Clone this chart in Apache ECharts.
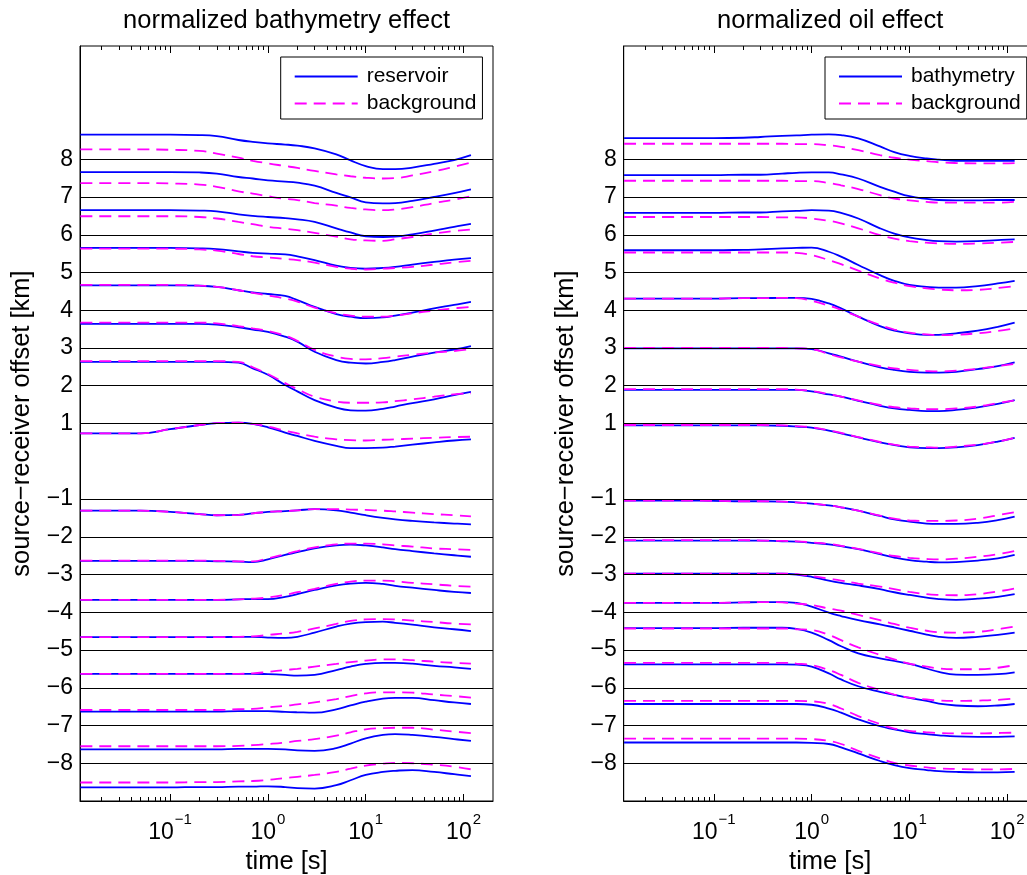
<!DOCTYPE html>
<html><head><meta charset="utf-8">
<script src="https://cdn.jsdelivr.net/npm/echarts@6/dist/echarts.min.js"></script>
<style>html,body{margin:0;padding:0;background:#fff}#c{width:1027px;height:875px}</style>
</head><body><div id="c"></div>
<script>
// ---------- data ----------
const TIME = [0.0121, 0.05, 0.1, 0.2, 0.3, 0.5, 0.7, 1, 1.5, 2, 3, 5, 7, 10, 15, 20, 30, 50, 80, 119];
const OFFSETS = [8, 7, 6, 5, 4, 3, 2, 1, -1, -2, -3, -4, -5, -6, -7, -8];
const Y_TICKS = [-8, -7, -6, -5, -4, -3, -2, -1, 1, 2, 3, 4, 5, 6, 7, 8];
const X_MAJOR = [0.1, 1, 10, 100];
const X_EXP = ['\u22121', '0', '1', '2'];
const X_MINOR = [0.02,0.03,0.04,0.05,0.06,0.07,0.08,0.09,0.2,0.3,0.4,0.5,0.6,0.7,0.8,0.9,2,3,4,5,6,7,8,9,20,30,40,50,60,70,80,90];
const TITLES = ['normalized bathymetry effect', 'normalized oil effect'];
const LEGENDS = [['reservoir', 'background'], ['bathymetry', 'background']];

const bathyReservoir = [
 [8.65,8.65,8.65,8.64,8.61,8.51,8.46,8.42,8.39,8.36,8.29,8.13,7.97,7.82,7.74,7.74,7.78,7.88,7.98,8.11],
 [7.66,7.66,7.66,7.65,7.62,7.53,7.49,7.44,7.41,7.38,7.30,7.11,6.99,6.86,6.83,6.84,6.90,7.00,7.10,7.20],
 [6.65,6.65,6.65,6.64,6.62,6.54,6.50,6.47,6.44,6.41,6.34,6.17,6.06,5.96,5.94,5.95,6.01,6.11,6.21,6.29],
 [5.65,5.65,5.65,5.64,5.62,5.56,5.52,5.50,5.48,5.43,5.33,5.18,5.12,5.10,5.12,5.15,5.21,5.28,5.34,5.38],
 [4.66,4.66,4.66,4.65,4.62,4.53,4.47,4.43,4.38,4.27,4.09,3.90,3.83,3.79,3.81,3.86,3.94,4.05,4.14,4.22],
 [3.64,3.64,3.64,3.64,3.62,3.55,3.49,3.43,3.30,3.17,2.90,2.68,2.61,2.59,2.63,2.68,2.77,2.88,2.96,3.05],
 [2.63,2.63,2.63,2.63,2.63,2.61,2.46,2.29,2.02,1.85,1.62,1.42,1.35,1.34,1.39,1.45,1.54,1.64,1.75,1.84],
 [0.74,0.74,0.85,0.96,1.01,1.02,0.99,0.90,0.76,0.67,0.54,0.41,0.35,0.35,0.36,0.39,0.44,0.50,0.55,0.58],
 [-1.31,-1.31,-1.34,-1.40,-1.43,-1.42,-1.38,-1.34,-1.32,-1.30,-1.27,-1.30,-1.36,-1.43,-1.50,-1.54,-1.58,-1.62,-1.65,-1.67],
 [-2.64,-2.64,-2.64,-2.64,-2.65,-2.66,-2.67,-2.60,-2.48,-2.41,-2.31,-2.23,-2.21,-2.23,-2.28,-2.33,-2.38,-2.44,-2.49,-2.53],
 [-3.67,-3.67,-3.67,-3.67,-3.67,-3.66,-3.65,-3.65,-3.59,-3.52,-3.41,-3.29,-3.24,-3.22,-3.25,-3.30,-3.35,-3.41,-3.46,-3.49],
 [-4.66,-4.66,-4.66,-4.66,-4.66,-4.65,-4.65,-4.67,-4.68,-4.65,-4.54,-4.38,-4.30,-4.26,-4.25,-4.28,-4.33,-4.40,-4.45,-4.50],
 [-5.63,-5.63,-5.63,-5.63,-5.63,-5.63,-5.63,-5.64,-5.66,-5.68,-5.66,-5.53,-5.44,-5.37,-5.34,-5.34,-5.36,-5.42,-5.46,-5.50],
 [-6.63,-6.63,-6.63,-6.63,-6.63,-6.62,-6.62,-6.62,-6.64,-6.65,-6.66,-6.57,-6.47,-6.37,-6.29,-6.27,-6.27,-6.33,-6.39,-6.43],
 [-7.63,-7.63,-7.63,-7.63,-7.63,-7.62,-7.62,-7.62,-7.63,-7.66,-7.67,-7.60,-7.48,-7.34,-7.25,-7.23,-7.25,-7.30,-7.36,-7.41],
 [-8.64,-8.64,-8.64,-8.63,-8.63,-8.62,-8.62,-8.61,-8.63,-8.66,-8.67,-8.58,-8.45,-8.31,-8.23,-8.20,-8.18,-8.23,-8.29,-8.34]
];
const bathyBackground = [
 [8.26,8.26,8.25,8.22,8.15,8.04,7.96,7.89,7.82,7.77,7.69,7.60,7.55,7.51,7.49,7.50,7.57,7.68,7.80,7.91],
 [7.37,7.37,7.36,7.33,7.27,7.15,7.09,7.02,6.95,6.92,6.84,6.77,6.71,6.67,6.65,6.67,6.73,6.84,6.93,7.02],
 [6.49,6.49,6.49,6.47,6.43,6.34,6.28,6.21,6.16,6.12,6.05,5.95,5.88,5.85,5.84,5.88,5.94,6.03,6.10,6.14],
 [5.63,5.63,5.63,5.61,5.58,5.49,5.43,5.40,5.36,5.33,5.26,5.15,5.10,5.08,5.10,5.12,5.15,5.21,5.27,5.31],
 [4.67,4.67,4.67,4.65,4.62,4.53,4.46,4.39,4.31,4.23,4.07,3.92,3.86,3.83,3.83,3.86,3.92,3.99,4.05,4.09],
 [3.67,3.67,3.67,3.67,3.65,3.58,3.52,3.45,3.33,3.19,2.95,2.77,2.71,2.70,2.73,2.77,2.82,2.88,2.92,2.97],
 [2.65,2.65,2.65,2.65,2.65,2.63,2.49,2.31,2.07,1.91,1.71,1.58,1.55,1.55,1.56,1.59,1.64,1.71,1.77,1.80],
 [0.74,0.74,0.85,0.96,1.01,1.02,0.99,0.92,0.81,0.74,0.65,0.58,0.56,0.55,0.57,0.58,0.60,0.62,0.64,0.65],
 [-1.31,-1.31,-1.34,-1.40,-1.43,-1.42,-1.38,-1.34,-1.32,-1.30,-1.27,-1.27,-1.28,-1.29,-1.31,-1.33,-1.36,-1.40,-1.43,-1.46],
 [-2.63,-2.63,-2.63,-2.63,-2.64,-2.65,-2.65,-2.57,-2.46,-2.38,-2.28,-2.20,-2.18,-2.18,-2.20,-2.23,-2.26,-2.31,-2.33,-2.35],
 [-3.67,-3.67,-3.67,-3.67,-3.67,-3.66,-3.64,-3.61,-3.54,-3.47,-3.38,-3.25,-3.19,-3.16,-3.16,-3.18,-3.22,-3.26,-3.30,-3.32],
 [-4.66,-4.66,-4.66,-4.66,-4.66,-4.65,-4.64,-4.60,-4.56,-4.52,-4.43,-4.31,-4.23,-4.19,-4.18,-4.19,-4.22,-4.26,-4.30,-4.32],
 [-5.63,-5.63,-5.63,-5.63,-5.63,-5.63,-5.62,-5.58,-5.53,-5.50,-5.44,-5.37,-5.32,-5.28,-5.25,-5.25,-5.27,-5.31,-5.34,-5.36],
 [-6.59,-6.59,-6.59,-6.59,-6.59,-6.57,-6.56,-6.52,-6.48,-6.44,-6.39,-6.30,-6.22,-6.15,-6.12,-6.12,-6.13,-6.18,-6.22,-6.26],
 [-7.55,-7.55,-7.55,-7.55,-7.55,-7.54,-7.52,-7.49,-7.45,-7.41,-7.36,-7.27,-7.18,-7.10,-7.07,-7.06,-7.06,-7.11,-7.16,-7.20],
 [-8.51,-8.51,-8.51,-8.50,-8.50,-8.48,-8.47,-8.44,-8.39,-8.36,-8.31,-8.23,-8.14,-8.06,-8.01,-7.99,-8.00,-8.04,-8.09,-8.16]
];
const oilBathymetry = [
 [8.56,8.56,8.56,8.57,8.59,8.62,8.63,8.65,8.66,8.64,8.55,8.34,8.19,8.09,8.02,7.99,7.96,7.96,7.96,7.96],
 [7.58,7.58,7.58,7.59,7.59,7.62,7.64,7.65,7.65,7.60,7.49,7.27,7.14,7.02,6.95,6.92,6.91,6.91,6.92,6.92],
 [6.58,6.58,6.58,6.59,6.59,6.62,6.63,6.65,6.64,6.58,6.43,6.17,6.03,5.93,5.86,5.83,5.82,5.83,5.86,5.88],
 [5.59,5.59,5.59,5.60,5.61,5.64,5.65,5.66,5.55,5.42,5.20,4.93,4.78,4.67,4.62,4.60,4.60,4.64,4.71,4.78],
 [4.31,4.31,4.31,4.32,4.32,4.33,4.33,4.30,4.18,4.05,3.83,3.58,3.46,3.39,3.35,3.35,3.39,3.46,3.56,3.67],
 [2.99,2.99,2.99,2.99,2.99,2.99,2.99,2.97,2.86,2.77,2.64,2.49,2.42,2.37,2.35,2.35,2.37,2.44,2.52,2.62],
 [1.89,1.89,1.89,1.89,1.89,1.89,1.89,1.85,1.77,1.71,1.60,1.47,1.40,1.36,1.33,1.33,1.36,1.43,1.52,1.62],
 [0.95,0.95,0.95,0.95,0.95,0.94,0.92,0.89,0.81,0.74,0.63,0.50,0.43,0.37,0.35,0.35,0.37,0.43,0.52,0.62],
 [-1.04,-1.04,-1.05,-1.06,-1.06,-1.07,-1.09,-1.12,-1.17,-1.22,-1.31,-1.45,-1.54,-1.60,-1.65,-1.66,-1.66,-1.63,-1.56,-1.47],
 [-2.10,-2.10,-2.10,-2.10,-2.10,-2.12,-2.13,-2.16,-2.20,-2.25,-2.33,-2.46,-2.55,-2.62,-2.66,-2.68,-2.67,-2.63,-2.57,-2.48],
 [-2.98,-2.98,-2.98,-2.98,-2.98,-2.98,-3.00,-3.06,-3.16,-3.22,-3.29,-3.39,-3.47,-3.54,-3.61,-3.65,-3.67,-3.64,-3.59,-3.52],
 [-3.75,-3.75,-3.75,-3.74,-3.73,-3.73,-3.75,-3.85,-4.01,-4.10,-4.21,-4.32,-4.40,-4.49,-4.59,-4.65,-4.68,-4.65,-4.60,-4.54],
 [-4.42,-4.42,-4.42,-4.41,-4.41,-4.41,-4.44,-4.54,-4.74,-4.90,-5.09,-5.22,-5.29,-5.37,-5.49,-5.58,-5.65,-5.66,-5.64,-5.59],
 [-5.38,-5.38,-5.38,-5.38,-5.38,-5.38,-5.39,-5.44,-5.62,-5.78,-5.96,-6.11,-6.19,-6.27,-6.35,-6.42,-6.47,-6.49,-6.47,-6.43],
 [-6.43,-6.43,-6.43,-6.43,-6.43,-6.43,-6.43,-6.45,-6.55,-6.66,-6.84,-7.02,-7.10,-7.18,-7.23,-7.26,-7.29,-7.30,-7.30,-7.29],
 [-7.45,-7.45,-7.45,-7.45,-7.45,-7.45,-7.45,-7.46,-7.49,-7.58,-7.74,-7.94,-8.05,-8.13,-8.18,-8.21,-8.23,-8.24,-8.24,-8.23]
];
const oilBackground = [
 [8.41,8.41,8.41,8.41,8.41,8.41,8.40,8.40,8.37,8.33,8.24,8.11,8.04,7.99,7.95,7.92,7.90,7.89,7.89,7.90],
 [7.43,7.43,7.43,7.43,7.43,7.43,7.42,7.42,7.37,7.31,7.21,7.05,6.96,6.91,6.87,6.85,6.85,6.85,6.85,6.87],
 [6.47,6.47,6.47,6.47,6.47,6.46,6.46,6.43,6.37,6.30,6.17,5.99,5.90,5.83,5.79,5.77,5.76,5.77,5.79,5.81],
 [5.53,5.53,5.53,5.53,5.53,5.53,5.52,5.46,5.33,5.22,5.05,4.84,4.73,4.64,4.58,4.55,4.53,4.54,4.59,4.64],
 [4.31,4.31,4.31,4.32,4.32,4.33,4.32,4.25,4.12,4.01,3.83,3.61,3.49,3.41,3.36,3.34,3.35,3.39,3.45,3.52],
 [3.00,3.00,3.00,3.00,3.00,3.00,2.99,2.97,2.84,2.75,2.64,2.52,2.46,2.42,2.39,2.38,2.40,2.45,2.52,2.58],
 [1.91,1.91,1.91,1.91,1.91,1.91,1.90,1.86,1.78,1.71,1.61,1.49,1.43,1.40,1.38,1.38,1.40,1.45,1.54,1.61],
 [0.96,0.96,0.96,0.96,0.96,0.95,0.93,0.90,0.82,0.75,0.64,0.51,0.44,0.39,0.37,0.36,0.39,0.44,0.52,0.62],
 [-1.04,-1.04,-1.05,-1.06,-1.06,-1.07,-1.09,-1.12,-1.17,-1.22,-1.31,-1.44,-1.52,-1.57,-1.58,-1.58,-1.57,-1.52,-1.43,-1.35],
 [-2.09,-2.09,-2.09,-2.09,-2.10,-2.11,-2.12,-2.15,-2.19,-2.24,-2.32,-2.44,-2.51,-2.56,-2.59,-2.60,-2.58,-2.53,-2.46,-2.38],
 [-2.98,-2.98,-2.98,-2.98,-2.98,-2.98,-2.99,-3.04,-3.11,-3.16,-3.24,-3.32,-3.39,-3.46,-3.52,-3.54,-3.55,-3.52,-3.45,-3.37],
 [-3.75,-3.75,-3.75,-3.74,-3.73,-3.74,-3.77,-3.81,-3.90,-3.96,-4.07,-4.21,-4.31,-4.41,-4.49,-4.53,-4.54,-4.52,-4.45,-4.38],
 [-4.43,-4.43,-4.43,-4.43,-4.43,-4.43,-4.45,-4.47,-4.60,-4.74,-4.93,-5.13,-5.25,-5.36,-5.44,-5.49,-5.51,-5.51,-5.47,-5.40],
 [-5.34,-5.34,-5.34,-5.34,-5.34,-5.34,-5.36,-5.40,-5.53,-5.66,-5.87,-6.06,-6.18,-6.26,-6.31,-6.34,-6.35,-6.34,-6.32,-6.28],
 [-6.35,-6.35,-6.35,-6.35,-6.35,-6.35,-6.35,-6.36,-6.43,-6.55,-6.75,-6.96,-7.08,-7.14,-7.18,-7.20,-7.21,-7.21,-7.20,-7.19],
 [-7.35,-7.35,-7.35,-7.35,-7.35,-7.35,-7.35,-7.36,-7.41,-7.49,-7.67,-7.87,-7.99,-8.06,-8.11,-8.14,-8.15,-8.16,-8.16,-8.15]
];
const PANELS = [[bathyReservoir, bathyBackground], [oilBathymetry, oilBackground]];

// ---------- styling ----------
const FONT = '"Liberation Sans", Arial, Helvetica, sans-serif';
const BLUE = '#0000ff', MAGENTA = '#ff00ff';
const GRID_LEFT = [80, 623.7], GRID_TOP = 46, GRID_W = 413, GRID_H = 755;

const chart = echarts.init(document.getElementById('c'), null, {renderer: 'canvas'});
const grids = [], xAxes = [], yAxes = [], series = [], legends = [], graphics = [];

function expLabel(v) {
  const i = X_MAJOR.findIndex(m => Math.abs(m - v) / m < 1e-6);
  return i < 0 ? '' : '{b|10}{s|' + X_EXP[i] + '}';
}

for (let p = 0; p < 2; p++) {
  grids.push({left: GRID_LEFT[p], top: GRID_TOP, width: GRID_W, height: GRID_H,
    outerBoundsMode: 'none', containLabel: false,
    show: true, borderColor: '#000', borderWidth: 1});
  const base = xAxes.length;
  const common = {type: 'log', logBase: 10, gridIndex: p, min: 0.012, max: 200,
    splitLine: {show: false}, minorTick: {show: false}, z: 5};
  const tickStyle = {color: '#000', width: 1};
  // main bottom axis (major ticks + labels)
  xAxes.push(Object.assign({}, common, {position: 'bottom',
    axisLine: {show: true, onZero: false, lineStyle: {color: '#000', width: 1}},
    axisTick: {show: true, inside: true, length: 7, customValues: X_MAJOR, lineStyle: tickStyle},
    axisLabel: {show: true, customValues: X_MAJOR, margin: 11, formatter: expLabel,
      rich: {b: {fontSize: 23, fontFamily: FONT, color: '#000'},
             s: {fontSize: 15, fontFamily: FONT, color: '#000', padding: [0, 0, 27, 1]}}},
    name: 'time [s]', nameLocation: 'middle', nameGap: 46,
    nameTextStyle: {fontSize: 25.5, fontFamily: FONT, color: '#000'}}));
  // bottom minor
  xAxes.push(Object.assign({}, common, {position: 'bottom',
    axisLine: {show: false, onZero: false},
    axisTick: {show: true, inside: true, length: 4, customValues: X_MINOR, lineStyle: tickStyle},
    axisLabel: {show: false}}));
  // top major / minor
  xAxes.push(Object.assign({}, common, {position: 'top',
    axisLine: {show: false, onZero: false},
    axisTick: {show: true, inside: true, length: 7, customValues: X_MAJOR, lineStyle: tickStyle},
    axisLabel: {show: false}}));
  xAxes.push(Object.assign({}, common, {position: 'top',
    axisLine: {show: false, onZero: false},
    axisTick: {show: true, inside: true, length: 4, customValues: X_MINOR, lineStyle: tickStyle},
    axisLabel: {show: false}}));

  yAxes.push({type: 'value', gridIndex: p, min: -9, max: 11, interval: 1, position: 'left',
    axisLine: {show: true, onZero: false, lineStyle: {color: '#000', width: 1}},
    axisTick: {show: false}, splitLine: {show: false},
    axisLabel: {show: true, customValues: Y_TICKS, margin: 7, fontSize: 23, fontFamily: FONT, color: '#000',
      formatter: v => (v < 0 ? '\u2212' + Math.abs(v) : String(v))},
    name: 'source\u2212receiver offset [km]', nameLocation: 'middle', nameRotate: 90, nameGap: 45,
    nameTextStyle: {fontSize: 25.5, fontFamily: FONT, color: '#000'}});

  // horizontal reference lines at the tick values
  series.push({type: 'line', name: 'gridlines' + p, xAxisIndex: base, yAxisIndex: p, data: [],
    silent: true, z: 1, symbol: 'none',
    markLine: {silent: true, symbol: ['none', 'none'], label: {show: false}, animation: false,
      lineStyle: {color: '#000', width: 1, type: 'solid'},
      emphasis: {disabled: true},
      data: Y_TICKS.map(v => ({yAxis: v}))}});

  const [solidSet, dashSet] = PANELS[p];
  for (let i = 0; i < OFFSETS.length; i++) {
    series.push({type: 'line', name: LEGENDS[p][0], xAxisIndex: base, yAxisIndex: p,
      data: TIME.map((t, k) => [t, solidSet[i][k]]), symbol: 'none', smooth: 0.45,
      lineStyle: {color: BLUE, width: 1.8}, itemStyle: {color: BLUE}, z: 3, silent: true});
  }
  for (let i = 0; i < OFFSETS.length; i++) {
    series.push({type: 'line', name: LEGENDS[p][1], xAxisIndex: base, yAxisIndex: p,
      data: TIME.map((t, k) => [t, dashSet[i][k]]), symbol: 'none', smooth: 0.45,
      lineStyle: {color: MAGENTA, width: 1.8, type: [12, 7]}, itemStyle: {color: MAGENTA}, z: 4, silent: true});
  }

  legends.push({data: LEGENDS[p], left: [280.7, 825][p], top: 57, orient: 'vertical',
    itemWidth: 63, itemHeight: 14, itemGap: 6, padding: [9, 6, 5, 13],
    backgroundColor: '#fff', borderColor: '#000', borderWidth: 1, selectedMode: false,
    itemStyle: {opacity: 0},
    textStyle: {fontSize: 21, fontFamily: FONT, color: '#000', padding: [0, 0, 0, 4]}});

  graphics.push({type: 'text', x: GRID_LEFT[p] + GRID_W / 2, y: 21,
    style: {text: TITLES[p], fontSize: 25.5, fontFamily: FONT, fill: '#000',
      textAlign: 'center', textVerticalAlign: 'middle'}});
}

chart.setOption({
  animation: false,
  backgroundColor: '#fff',
  grid: grids, xAxis: xAxes, yAxis: yAxes, series: series, legend: legends,
  graphic: graphics, tooltip: {show: false}
});
</script></body></html>
